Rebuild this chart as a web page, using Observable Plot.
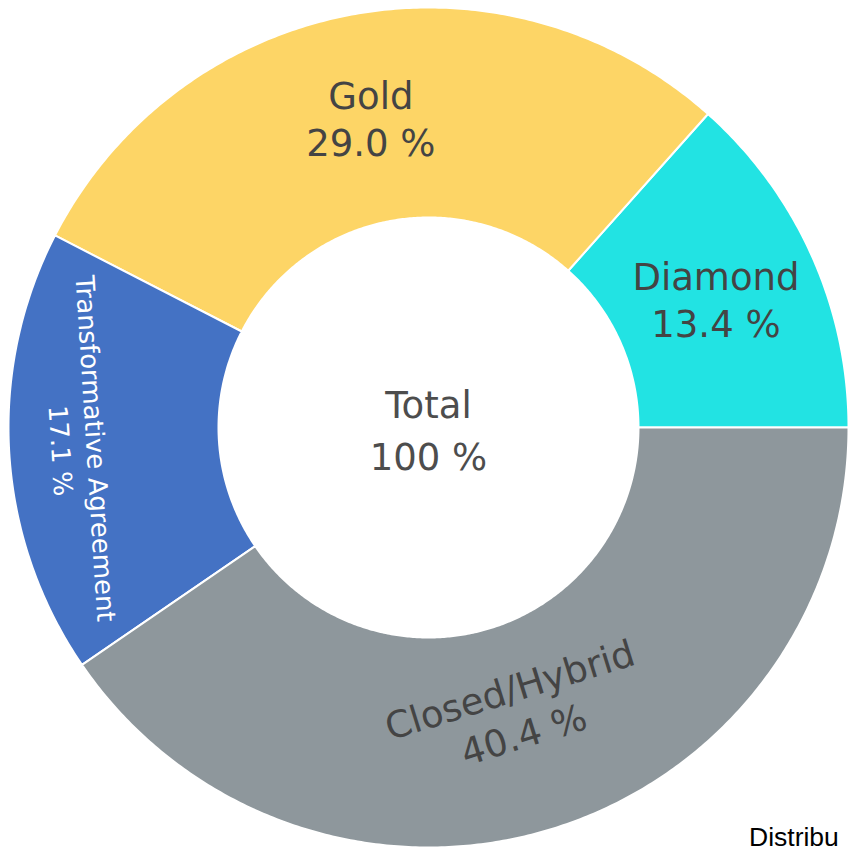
<!DOCTYPE html>
<html>
<head>
<meta charset="utf-8">
<script src="https://cdn.jsdelivr.net/npm/d3@7"></script>
<script src="https://cdn.jsdelivr.net/npm/@observablehq/plot@0.6"></script>
<style>
  html, body { margin: 0; padding: 0; background: #fff; overflow: hidden; width: 848px; height: 849px; }
  #wrap { position: relative; width: 848px; height: 849px; }
  #chart svg { display: block; }
  #caption { position: absolute; left: 749px; top: 826px; font-family: "Liberation Sans", Arial, sans-serif;
             font-size: 26.5px; line-height: 22px; color: #000; white-space: nowrap; }
</style>
</head>
<body>
<div id="wrap">
  <div id="chart"></div>
  <div id="caption">Distribu</div>
</div>
<script>
// ---- data ----
const categories = ["Diamond", "Gold", "Transformative Agreement", "Closed/Hybrid"];
const shares = [13.4, 29.0, 17.1, 40.4];
const sliceColors = ["#22E3E3", "#FDD566", "#4472C4", "#8E979C"];
const centerLines = ["Total", "100 %"];

// ---- layout / style config ----
const W = 848, H = 849, CX = 428, CY = 427, R = 420;
const HOLE = 0.5;
const labelRadius = { "Transformative Agreement": 0.831, "Closed/Hybrid": 0.705 };
const labelOrient = { "Transformative Agreement": "tangential", "Closed/Hybrid": "tangential" };
const labelFont = { "Transformative Agreement": 26 };
const whiteText = new Set(["Transformative Agreement"]);
const FONT = "'DejaVu Sans', Verdana, sans-serif";

// ---- geometry from data ----
const total = d3.sum(shares);
let cum = 0;
const slices = categories.map((c, i) => {
  const a0 = cum / total * 2 * Math.PI;
  cum += shares[i];
  const a1 = cum / total * 2 * Math.PI;
  return { category: c, share: shares[i], a0, a1 };
});

const pts = [];
for (const s of slices) {
  const n = Math.max(2, Math.ceil((s.a1 - s.a0) / (Math.PI / 360)));
  for (let k = 0; k <= n; k++) {
    const t = s.a0 + (s.a1 - s.a0) * k / n;
    pts.push({ category: s.category, x: Math.cos(t), y: Math.sin(t) });
  }
  for (let k = n; k >= 0; k--) {
    const t = s.a0 + (s.a1 - s.a0) * k / n;
    pts.push({ category: s.category, x: HOLE * Math.cos(t), y: HOLE * Math.sin(t) });
  }
}

const labels = slices.map(s => {
  const mid = (s.a0 + s.a1) / 2;
  const r = labelRadius[s.category] ?? (1 + HOLE) / 2;
  const screenDeg = -mid * 180 / Math.PI;
  let rot = 0;
  if (labelOrient[s.category] === "tangential") {
    rot = screenDeg - 90;
    while (rot <= -90) rot += 180;
    while (rot > 90) rot -= 180;
  }
  return {
    category: s.category,
    x: r * Math.cos(mid),
    y: r * Math.sin(mid),
    rot,
    size: labelFont[s.category] ?? 37,
    text: `${s.category}\n${s.share.toFixed(1)} %`
  };
});

const centerData = [{ x: 0, y: 0, text: centerLines.join("\n") }];

const chart = Plot.plot({
  width: W,
  height: H,
  margin: 0,
  x: { domain: [-1, 1], range: [CX - R, CX + R], axis: null },
  y: { domain: [-1, 1], range: [CY + R, CY - R], axis: null },
  color: { domain: categories, range: sliceColors },
  style: { background: "#fff", fontFamily: FONT },
  marks: [
    Plot.line(pts, { x: "x", y: "y", z: "category", fill: "category", stroke: "white", strokeWidth: 2, curve: "linear-closed" }),
    Plot.text(labels.filter(d => !whiteText.has(d.category)), {
      x: "x", y: "y", text: "text", rotate: "rot", fontSize: "size", fill: "#444",
      lineAnchor: "middle", lineHeight: 1.27, fontFamily: FONT
    }),
    Plot.text(labels.filter(d => whiteText.has(d.category)), {
      x: "x", y: "y", text: "text", rotate: "rot", fontSize: "size", fill: "white",
      lineAnchor: "middle", lineHeight: 1.35, fontFamily: FONT
    }),
    Plot.text(centerData, {
      x: "x", y: "y", text: "text", fontSize: 37, fill: "#4d4d4d",
      lineAnchor: "middle", lineHeight: 1.4, fontFamily: FONT
    })
  ]
});
document.getElementById("chart").appendChild(chart);
</script>
</body>
</html>
